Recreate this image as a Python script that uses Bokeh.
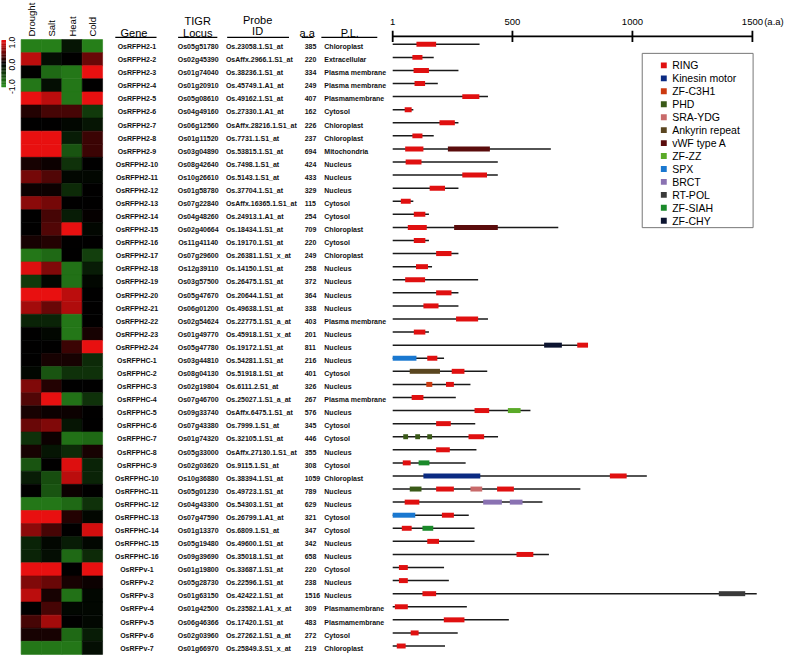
import numpy as np
from bokeh.plotting import figure
from bokeh.models import Range1d, ColumnDataSource, LinearColorMapper, CategoricalColorMapper
from bokeh.transform import transform
from bokeh.core.properties import value
from bokeh.embed import file_html
from bokeh.resources import INLINE

# ---------------- data ----------------
genes = [f"OsRFPH2-{i}" for i in range(1, 25)] + [f"OsRFPHC-{i}" for i in range(1, 17)] + [f"OsRFPv-{i}" for i in range(1, 8)]
loci = ["Os05g51780", "Os02g45390", "Os01g74040", "Os01g20910", "Os05g08610", "Os04g49160", "Os06g12560",
        "Os01g11520", "Os03g04890", "Os08g42640", "Os10g26610", "Os01g58780", "Os07g22840", "Os04g48260",
        "Os02g40664", "Os11g41140", "Os07g29600", "Os12g39110", "Os03g57500", "Os05g47670", "Os06g01200",
        "Os02g54624", "Os01g49770", "Os05g47780",
        "Os03g44810", "Os08g04130", "Os02g19804", "Os07g46700", "Os09g33740", "Os07g43380", "Os01g74320",
        "Os05g33000", "Os02g03620", "Os10g36880", "Os05g01230", "Os04g43300", "Os07g47590", "Os01g13370",
        "Os05g19480", "Os09g39690",
        "Os01g19800", "Os05g28730", "Os01g63150", "Os01g42500", "Os06g46366", "Os02g03960", "Os01g66970"]
probes = ["Os.23058.1.S1_at", "OsAffx.2966.1.S1_at", "Os.38236.1.S1_at", "Os.45749.1.A1_at", "Os.49162.1.S1_at",
          "Os.27330.1.A1_at", "OsAffx.28216.1.S1_at", "Os.7731.1.S1_at", "Os.53815.1.S1_at", "Os.7498.1.S1_at",
          "Os.5143.1.S1_at", "Os.37704.1.S1_at", "OsAffx.16365.1.S1_at", "Os.24913.1.A1_at", "Os.18434.1.S1_at",
          "Os.19170.1.S1_at", "Os.26381.1.S1_x_at", "Os.14150.1.S1_at", "Os.26475.1.S1_at", "Os.20644.1.S1_at",
          "Os.49638.1.S1_at", "Os.22775.1.S1_a_at", "Os.45918.1.S1_x_at", "Os.19172.1.S1_at",
          "Os.54281.1.S1_at", "Os.51918.1.S1_at", "Os.6111.2.S1_at", "Os.25027.1.S1_a_at", "OsAffx.6475.1.S1_at",
          "Os.7999.1.S1_at", "Os.32105.1.S1_at", "OsAffx.27130.1.S1_at", "Os.9115.1.S1_at", "Os.38394.1.S1_at",
          "Os.49723.1.S1_at", "Os.54303.1.S1_at", "Os.26799.1.A1_at", "Os.6809.1.S1_at", "Os.49600.1.S1_at",
          "Os.35018.1.S1_at",
          "Os.33687.1.S1_at", "Os.22596.1.S1_at", "Os.42422.1.S1_at", "Os.23582.1.A1_x_at", "Os.17420.1.S1_at",
          "Os.27262.1.S1_a_at", "Os.25849.3.S1_x_at"]
aa_len = [385, 220, 334, 249, 407, 162, 226, 237, 694, 424, 433, 329, 115, 254, 709, 220, 249, 258, 372, 364,
          338, 403, 201, 811,
          216, 401, 326, 267, 576, 345, 446, 355, 308, 1059, 789, 629, 321, 347, 342, 658,
          220, 238, 1516, 309, 483, 272, 219]
locations = ["Chloroplast", "Extracellular", "Plasma membrane", "Plasma membrane", "Plasmamembrane", "Cytosol",
             "Chloroplast", "Chloroplast", "Mitochondria", "Nucleus", "Nucleus", "Nucleus", "Cytosol", "Cytosol",
             "Chloroplast", "Cytosol", "Chloroplast", "Nucleus", "Nucleus", "Nucleus", "Nucleus",
             "Plasma membrane", "Nucleus", "Nucleus",
             "Nucleus", "Cytosol", "Nucleus", "Plasma membrane", "Nucleus", "Cytosol", "Cytosol", "Nucleus",
             "Cytosol", "Chloroplast", "Nucleus", "Nucleus", "Cytosol", "Cytosol", "Nucleus", "Nucleus",
             "Cytosol", "Nucleus", "Nucleus", "Plasmamembrane", "Plasmamembrane", "Cytosol", "Chloroplast"]

conditions = ["Drought", "Salt", "Heat", "Cold"]
drought = [-0.9, 0.8, 0.0, -0.85, 1.0, 0.15, 0.0, 1.0, 1.0, 0.1, 0.5, 0.05, 0.6, 0.0, 0.0, 0.1, -0.85, 0.95,
           -0.4, 1.0, 0.7, -0.25, 0.0, 0.0,
           0.0, -0.05, 0.55, 0.35, 0.1, 0.45, -0.35, 0.1, -0.6, -0.2, 0.0, -0.85, 1.0, 0.6, -0.25, -0.25,
           1.0, 0.55, 0.8, 0.0, 0.3, 0.1, -0.85]
salt = [-0.9, -0.1, -0.75, -0.1, 0.8, 0.3, 0.0, 1.0, 1.0, 0.05, 0.35, 0.05, 0.5, 0.3, 0.35, 0.15, -0.75, 0.55,
        -0.05, 1.0, 0.45, -0.25, -0.05, 0.0,
        0.1, -0.6, 0.15, 1.0, 0.05, 0.55, 0.05, -0.15, 0.0, -0.55, -0.6, -0.85, 1.0, 0.3, -0.05, -0.1,
        1.0, 0.45, 0.1, 0.3, 0.7, 0.1, -0.85]
heat = [-0.15, 0.0, -0.85, -0.85, -0.85, 0.3, -0.05, -0.2, -0.6, -0.35, -0.05, -0.3, 0.0, -0.2, 1.0, 0.0, 0.0,
        -0.8, -0.8, 0.8, 0.75, -0.85, -0.85, 0.25,
        0.1, -0.35, 0.0, -0.8, 0.05, -0.15, -0.8, -0.3, 0.95, 0.8, 0.05, -0.75, 0.15, 0.0, -0.2, -0.75,
        0.0, 0.1, -0.8, -0.05, 0.0, -0.75, -0.85]
cold = [-0.9, 0.45, 1.0, 0.0, 1.0, -0.4, -0.15, 0.25, 0.25, 0.0, -0.05, 0.0, 0.0, 0.02, -0.05, 0.0, -0.45,
        -0.2, -0.05, 0.0, 0.0, 0.0, 0.1, 1.0,
        -0.3, -0.35, 0.0, -0.35, 0.0, 0.0, -0.75, 0.1, -0.25, -0.25, 0.0, -0.35, -0.05, 0.9, -0.05, -0.3,
        1.0, 0.05, -0.05, -0.05, -0.05, -0.2, -0.1]

# drawn protein length (a.a) of each gene model
line_end = [363, 172, 275, 189, 398, 87, 275, 172, 660, 439, 439, 275, 87, 152, 691, 152, 275, 165, 357, 275,
            275, 398, 152, 805,
            215, 395, 325, 264, 575, 345, 440, 350, 305, 1060, 783, 625, 318, 342, 342, 652,
            215, 235, 1518, 310, 485, 272, 219]

# domains: gene row index, start, end (a.a), type
dom_row = [0, 1, 2, 3, 4, 5, 6, 7, 8, 8, 9, 10, 11, 12, 13, 14, 14, 15, 16, 17, 18, 19, 20, 21, 22,
           23, 23,
           24, 24, 25, 25, 26, 26, 27, 28, 28, 29, 30, 30, 30, 30, 31, 32, 32, 33, 33,
           34, 34, 34, 34, 35, 35, 35, 36, 36, 37, 37, 38, 39,
           40, 41, 42, 42, 43, 44, 45, 46]
dom_start = [100, 83, 88, 92, 291, 51, 196, 83, 53, 231, 55, 291, 155, 35, 89, 64, 257, 89, 182, 98, 53, 182,
             129, 265, 89,
             632, 770,
             1, 145, 72, 247, 141, 223, 80, 342, 481, 182, 45, 95, 145, 317, 182, 43, 109, 129, 906,
             72, 182, 325, 436, 51, 378, 489, 1, 206, 39, 125, 145, 517,
             27, 27, 125, 1360, 10, 214, 76, 18]
dom_end = [182, 125, 152, 136, 362, 80, 260, 125, 129, 406, 121, 394, 219, 76, 137, 143, 439, 137, 246, 148,
           136, 246, 192, 357, 137,
           706, 815,
           100, 187, 198, 300, 166, 256, 129, 403, 534, 243, 65, 115, 165, 382, 239, 76, 154, 366, 976,
           121, 256, 374, 506, 112, 456, 542, 95, 256, 80, 170, 194, 587,
           64, 64, 182, 1470, 64, 300, 109, 55]
dom_type = ["RING"] * 8 + ["RING", "vWF type A"] + ["RING"] * 5 + ["RING", "vWF type A"] + ["RING"] * 8 + \
           ["ZF-CHY", "RING",
            "SPX", "RING", "Ankyrin repeat", "RING", "ZF-C3H1", "RING", "RING", "RING", "ZF-ZZ", "RING",
            "PHD", "PHD", "PHD", "RING", "RING", "RING", "ZF-SIAH", "Kinesin motor", "RING",
            "PHD", "RING", "SRA-YDG", "RING", "RING", "BRCT", "BRCT", "SPX", "RING", "RING", "ZF-SIAH",
            "RING", "RING",
            "RING", "RING", "RING", "RT-POL", "RING", "RING", "RING", "RING"]

domain_names = ["RING", "Kinesin motor", "ZF-C3H1", "PHD", "SRA-YDG", "Ankyrin repeat", "vWF type A",
                "ZF-ZZ", "SPX", "BRCT", "RT-POL", "ZF-SIAH", "ZF-CHY"]
domain_colors = ["#e01010", "#0a2a82", "#cc3a10", "#3a5a18", "#c86a6a", "#5a4620", "#5a0c0c",
                 "#5aaa28", "#1a78d0", "#8a72b2", "#3a3a3a", "#1a8a2a", "#0c1430"]

axis_ticks = [1, 500, 1000, 1500]
cbar_labels = ["1.0", "0.0", "-1.0"]

# ---------------- layout constants (reference pixel space) ----------------
ROW0, ROWH = 47.6, 13.36
AX0, AX1 = 400.7, 767.3
AS = (AX1 - AX0) / 1499.0
CX0, CW = 32.4, 20.75
FONT = value("Liberation Sans")
XR = (1, 800)
YR = (671, 1)

p = figure(width=784, height=656, x_range=Range1d(*XR), y_range=Range1d(*YR),
           output_backend="svg", toolbar_location=None, x_axis_type=None, y_axis_type=None,
           min_border=0, min_border_left=0, min_border_right=0, min_border_top=0, min_border_bottom=0)
p.grid.visible = False
p.outline_line_color = None
p.background_fill_color = "white"
p.border_fill_color = "white"

p.extra_y_ranges = {"row": Range1d((YR[0] - ROW0) / ROWH, (YR[1] - ROW0) / ROWH)}
p.extra_x_ranges = {"aa": Range1d(1 + (XR[0] - AX0) / AS, 1 + (XR[1] - AX0) / AS),
                    "col": Range1d((XR[0] - CX0) / CW, (XR[1] - CX0) / CW)}

rows = list(range(len(genes)))

# ---------------- heatmap ----------------
neg = np.array([42, 140, 28])
pos = np.array([232, 16, 16])
palette = []
for v in np.linspace(-1, 1, 256):
    c = neg * (-v) if v < 0 else pos * v
    palette.append("#%02x%02x%02x" % tuple(int(round(x)) for x in c))
mapper = LinearColorMapper(palette=palette, low=-1, high=1)

hx, hy, hv = [], [], []
for ci, series in enumerate([drought, salt, heat, cold]):
    for ri, val in enumerate(series):
        hx.append(ci)
        hy.append(ri)
        hv.append(val)
hsrc = ColumnDataSource(dict(x=hx, y=hy, v=hv))
p.rect(x="x", y="y", width=1, height=1, source=hsrc, x_range_name="col", y_range_name="row",
       fill_color=transform("v", mapper), line_color=transform("v", mapper), line_width=0.6)

p.text(x=list(range(4)), y=[37.8] * 4, text=conditions, x_range_name="col", angle=np.pi / 2,
       text_align="left", text_baseline="middle", text_font=FONT, text_font_size="9.5px", text_color="black")

# colour key
cb_vals = np.linspace(1, -1, 60)
cb_y = [42 + (1 - v) / 2 * 47 for v in cb_vals]
p.rect(x=[4.3] * len(cb_vals), y=cb_y, width=4.6, height=47 / 59 + 0.3,
       fill_color=[palette[int(round((v + 1) / 2 * 255))] for v in cb_vals], line_color=None)
p.text(x=[13.2] * 3, y=[44, 66.5, 89], text=cbar_labels, angle=np.pi / 2, text_align="center",
       text_baseline="middle", text_font=FONT, text_font_size="8.5px", text_color="black")

# ---------------- table ----------------
hdr_kw = dict(text_font=FONT, text_font_size="11px", text_color="black", text_align="center",
              text_baseline="alphabetic")
p.text(x=[137, 202, 202, 263, 263, 313.5, 357],
       y=[34, 22, 34.5, 20.5, 32, 34, 34],
       text=["Gene", "TIGR", "Locus", "Probe", "ID", "a.a", "P.L."], **hdr_kw)
p.segment(x0=[118, 182, 232, 308, 328], x1=[160, 222, 295, 320, 385], y0=[38.6] * 5, y1=[38.6] * 5,
          line_color="black", line_width=1.3)

cell_kw = dict(y_range_name="row", text_font=FONT, text_font_size="7px", text_color="#111",
               text_baseline="middle", text_font_style="bold")
yrow = [r + 0.03 for r in rows]
p.text(x=140, y=yrow, text=genes, text_align="center", **cell_kw)
p.text(x=202.5, y=yrow, text=loci, text_align="center", **cell_kw)
p.text(x=230.7, y=yrow, text=probes, text_align="left", **cell_kw)
p.text(x=311, y=yrow, text=[str(a) for a in aa_len], text_align="left", **cell_kw)
p.text(x=331, y=yrow, text=locations, text_align="left", **cell_kw)

# ---------------- protein structure ----------------
DOFF = -0.14
p.segment(x0=[1] * len(rows), x1=line_end, y0=[r + DOFF for r in rows], y1=[r + DOFF for r in rows],
          x_range_name="aa", y_range_name="row", line_color="#1a1a1a", line_width=1.5)
dsrc = ColumnDataSource(dict(l=dom_start, r=dom_end, t=[r + DOFF - 0.19 for r in dom_row],
                             b=[r + DOFF + 0.19 for r in dom_row], k=dom_type))
dmap = CategoricalColorMapper(factors=domain_names, palette=domain_colors)
p.quad(left="l", right="r", top="t", bottom="b", source=dsrc, x_range_name="aa", y_range_name="row",
       fill_color=transform("k", dmap), line_color=None)

# scale axis
AXY = 37.7
p.segment(x0=[axis_ticks[0]], x1=[axis_ticks[-1]], y0=[AXY], y1=[AXY], x_range_name="aa",
          line_color="black", line_width=1.8)
p.segment(x0=axis_ticks, x1=axis_ticks, y0=[31.8] * 4, y1=[43.4] * 4, x_range_name="aa",
          line_color="black", line_width=1.8)
p.text(x=axis_ticks, y=[22.5] * 4, text=[str(t) for t in axis_ticks], x_range_name="aa", text_align="center",
       text_baseline="middle", text_font=FONT, text_font_size="9.5px", text_color="black")
p.text(x=[779.3], y=[22.5], text=["(a.a)"], text_align="left", text_baseline="middle", text_font=FONT,
       text_font_size="9.5px", text_color="black")

# ---------------- legend ----------------
p.quad(left=[655], right=[768], top=[55], bottom=[233], fill_color="white", line_color="#777777",
       line_width=1)
leg_y = [67.3 + 13.22 * i for i in range(len(domain_names))]
p.rect(x=[677] * len(domain_names), y=leg_y, width=6, height=6, fill_color=domain_colors, line_color=None)
p.text(x=[685.5] * len(domain_names), y=leg_y, text=domain_names, text_align="left", text_baseline="middle",
       text_font=FONT, text_font_size="10.5px", text_color="black")

open("out.html", "w").write(file_html(p, INLINE))
